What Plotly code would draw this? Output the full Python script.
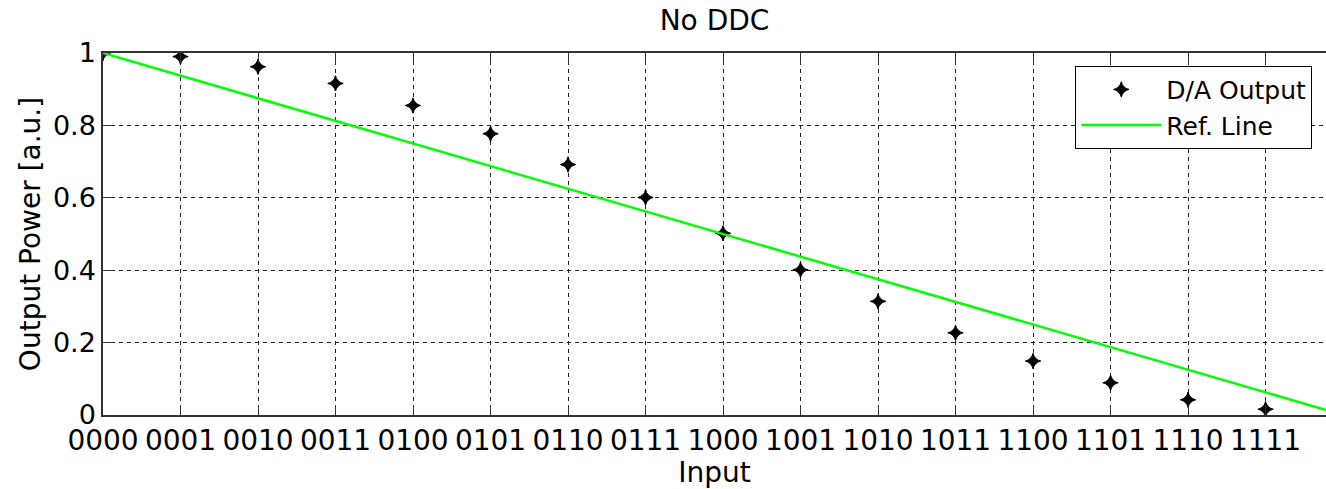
import plotly.graph_objects as go

codes = [0, 1, 2, 3, 4, 5, 6, 7, 8, 9, 10, 11, 12, 13, 14, 15]
tick_labels = ["0000", "0001", "0010", "0011", "0100", "0101", "0110", "0111",
               "1000", "1001", "1010", "1011", "1100", "1101", "1110", "1111"]
da_output = [1.0, 0.990, 0.962, 0.916, 0.855, 0.777, 0.692, 0.601,
             0.502, 0.401, 0.314, 0.227, 0.149, 0.089, 0.042, 0.016]
ref_x = [0, 16]
ref_y = [1.0, 0.0]
y_ticks = [0, 0.2, 0.4, 0.6, 0.8, 1.0]
y_tick_labels = ["0", "0.2", "0.4", "0.6", "0.8", "1"]

FONT = "DejaVu Sans, sans-serif"

fig = go.Figure()
fig.add_trace(go.Scatter(
    x=codes, y=da_output, mode="markers", name="D/A Output",
    marker=dict(symbol="star-diamond", size=11, color="black",
                line=dict(color="black", width=1)),
))
fig.add_trace(go.Scatter(
    x=ref_x, y=ref_y, mode="lines", name="Ref. Line",
    line=dict(color="#00ff00", width=2.5),
))

fig.update_layout(
    width=1326, height=489,
    margin=dict(l=103, r=0, t=53, b=74, autoexpand=False),
    paper_bgcolor="white", plot_bgcolor="white",
    font=dict(family=FONT, size=28, color="black"),
    title=dict(text="No DDC", x=0.5, xref="paper", xanchor="center",
               y=0.958, yref="container", yanchor="middle",
               font=dict(size=28, color="black")),
    showlegend=True,
    legend=dict(x=0.795, y=0.965, xanchor="left", yanchor="top",
                bgcolor="white", bordercolor="black", borderwidth=1,
                font=dict(size=25, color="black"), itemwidth=80,
                tracegroupgap=0),
)
fig.update_xaxes(
    range=[0, 15.78], tickmode="array", tickvals=codes, ticktext=tick_labels,
    showgrid=True, gridcolor="#222", griddash="4px,4px", gridwidth=1,
    showline=True, linecolor="#333", linewidth=1.5, mirror="ticks",
    ticks="inside", ticklen=10, tickcolor="#333", zeroline=False,
    tickfont=dict(size=28), automargin=False,
    title=dict(text="Input", font=dict(size=28), standoff=2),
)
fig.update_yaxes(
    range=[0, 1], tickmode="array", tickvals=y_ticks, ticktext=y_tick_labels,
    showgrid=True, gridcolor="#222", griddash="4px,4px", gridwidth=1,
    showline=True, linecolor="#333", linewidth=1.5, mirror=False,
    ticks="inside", ticklen=10, tickcolor="#333", zeroline=False,
    tickfont=dict(size=27), automargin=False,
    title=dict(text="Output Power [a.u.]", font=dict(size=28), standoff=4),
)

fig.write_html(
    "out.html",
    config={"displayModeBar": False},
    post_script="document.body.style.margin='0';document.body.style.overflow='hidden';",
)
